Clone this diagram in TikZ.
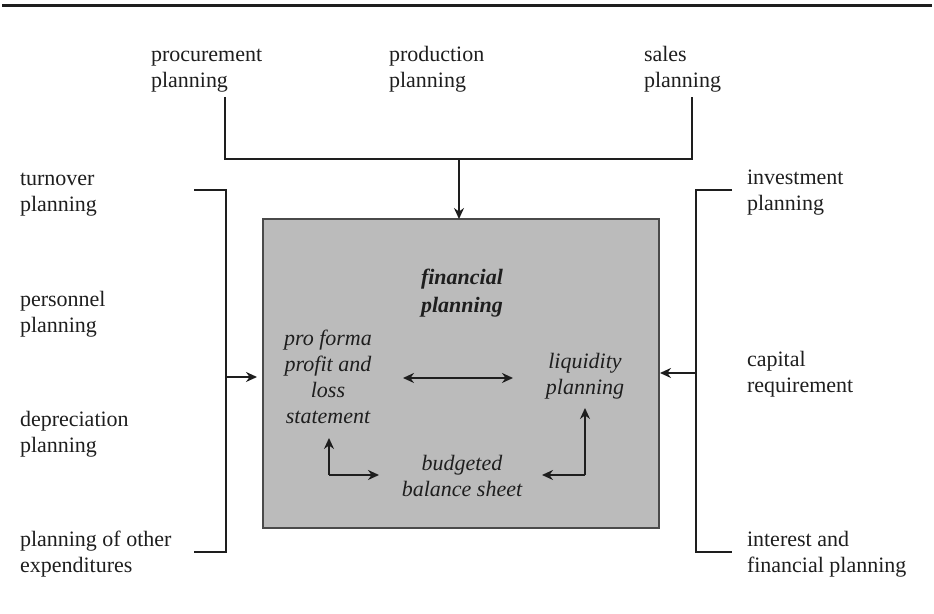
\documentclass[tikz,border=0pt]{standalone}
\usepackage{fontspec}
\setmainfont{Liberation Serif}
\usetikzlibrary{arrows.meta}
\definecolor{inkc}{HTML}{1E1E1E}
\definecolor{boxfill}{HTML}{BBBBBB}
\definecolor{boxedge}{HTML}{4A4A4A}
\begin{document}
\begin{tikzpicture}[x=0.5pt,y=-0.5pt,
  every node/.style={inner sep=0pt,outer sep=0pt,text=inkc,font=\fontsize{11}{13}\selectfont},
  lbl/.style={align=left,anchor=base west},
  inner/.style={align=center,anchor=base,font=\fontsize{11}{13}\selectfont\itshape},
  wire/.style={draw=inkc,line width=1pt},
  arr/.style={wire,-{Stealth[length=5.5pt,width=5pt,inset=1.8pt]}},
  darr/.style={wire,{Stealth[length=5.5pt,width=5pt,inset=1.8pt]}-{Stealth[length=5.5pt,width=5pt,inset=1.8pt]}}]
\useasboundingbox (0,0) rectangle (934,614);
% rule across the top
\draw[draw=inkc,line width=1.5pt] (2,6) -- (932,6);

% central box
\node[draw=boxedge,fill=boxfill,line width=0.8pt,minimum width=198pt,minimum height=154.5pt,anchor=north west] (box) at (263,219) {};

% upstream plans (anchored on the baseline of the last line)
\node[lbl] (proc) at (151,88) {procurement\\planning};
\node[lbl] (prod) at (389,88) {production\\planning};
\node[lbl] (sales) at (644,88) {sales\\planning};

% left inputs
\node[lbl] (turn) at (20,212) {turnover\\planning};
\node[lbl] (pers) at (20,333) {personnel\\planning};
\node[lbl] (depr) at (20,453) {depreciation\\planning};
\node[lbl] (other) at (20,573) {planning of other\\expenditures};

% right inputs
\node[lbl] (inv) at (747,211) {investment\\planning};
\node[lbl] (cap) at (747,393) {capital\\requirement};
\node[lbl] (intr) at (747,573) {interest and\\financial planning};

% contents of the box
\node[inner,font=\fontsize{11}{14}\selectfont\bfseries\itshape] (fin) at (462,313) {financial\\planning};
\node[inner] (pl) at (328,424) {pro forma\\profit and\\loss\\statement};
\node[inner] (liq) at (585,395) {liquidity\\planning};
\node[inner] (bud) at (462,497) {budgeted\\balance sheet};

% connector end points
\coordinate (t1) at (225,97);
\coordinate (t2) at (692,97);
\coordinate (tj) at (459,159);
\coordinate (l1) at (194,190);
\coordinate (l2) at (194,552);
\coordinate (lj) at (226,377);
\coordinate (r1) at (732,190);
\coordinate (r2) at (732,552);
\coordinate (rj) at (696,373);
\coordinate (pa) at (403,378);
\coordinate (la) at (513,378);
\coordinate (pu) at (329,438);
\coordinate (pc) at (329,475);
\coordinate (br) at (379,475);
\coordinate (lu) at (585,408);
\coordinate (lc) at (585,475);
\coordinate (bl) at (542,475);

% upper collector
\draw[wire] (t1) |- (t2 |- tj) -- (t2);
\draw[arr] (tj) -- (tj |- box.north);
% left collector
\draw[wire] (l1) -| (lj) |- (l2);
\draw[arr] (lj) -- ([xshift=-3pt]box.west |- lj);
% right collector
\draw[wire] (r1) -| (rj) |- (r2);
\draw[arr] (rj) -- ([xshift=0.5pt]box.east |- rj);

% links inside the box
\draw[darr] (pa) -- (la);
\draw[arr] (pc) -- (pu);
\draw[arr] (pc) -- (br);
\draw[arr] (lc) -- (lu);
\draw[arr] (lc) -- (bl);
\end{tikzpicture}
\end{document}
